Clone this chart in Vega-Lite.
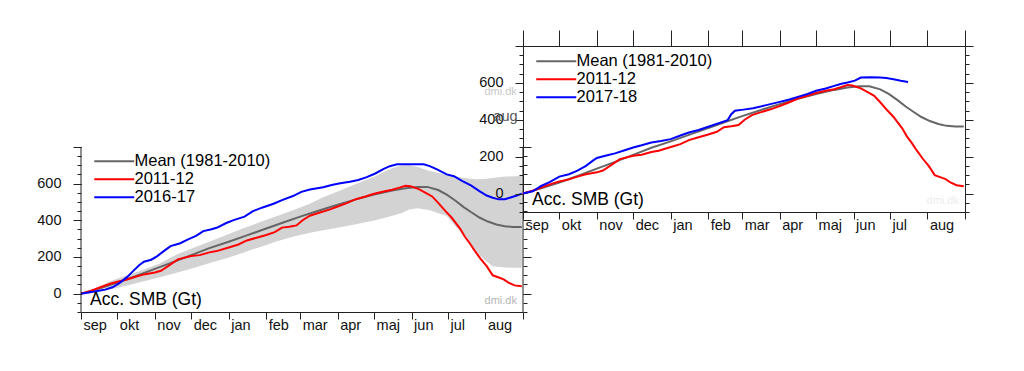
{
  "$schema": "https://vega.github.io/schema/vega-lite/v6.json",
  "background": "white",
  "padding": {"left": 36, "top": 29, "right": 10, "bottom": 10},
  "config": {
    "font": "Liberation Sans",
    "view": {"stroke": null},
    "axis": {"domainColor": "#222", "tickColor": "#222", "labelColor": "#111", "labelFont": "Liberation Sans", "labelFontSize": 14.5, "grid": false, "title": null, "domainWidth": 1, "tickWidth": 1},
    "legend": {"labelFont": "Liberation Sans"}
  },
  "datasets": {
    "lines": [
      {"series": "Mean (1981-2010)", "day": 0, "value": 0}, {"series": "Mean (1981-2010)", "day": 15, "value": 28}, {"series": "Mean (1981-2010)", "day": 30, "value": 60}, {"series": "Mean (1981-2010)", "day": 45, "value": 95}, {"series": "Mean (1981-2010)", "day": 61, "value": 135}, {"series": "Mean (1981-2010)", "day": 76, "value": 172}, {"series": "Mean (1981-2010)", "day": 91, "value": 210}, {"series": "Mean (1981-2010)", "day": 106, "value": 248}, {"series": "Mean (1981-2010)", "day": 122, "value": 283}, {"series": "Mean (1981-2010)", "day": 137, "value": 318}, {"series": "Mean (1981-2010)", "day": 153, "value": 355}, {"series": "Mean (1981-2010)", "day": 167, "value": 388}, {"series": "Mean (1981-2010)", "day": 181, "value": 420}, {"series": "Mean (1981-2010)", "day": 196, "value": 452}, {"series": "Mean (1981-2010)", "day": 212, "value": 485}, {"series": "Mean (1981-2010)", "day": 227, "value": 514}, {"series": "Mean (1981-2010)", "day": 242, "value": 540}, {"series": "Mean (1981-2010)", "day": 257, "value": 562}, {"series": "Mean (1981-2010)", "day": 268, "value": 575}, {"series": "Mean (1981-2010)", "day": 278, "value": 582}, {"series": "Mean (1981-2010)", "day": 286, "value": 582}, {"series": "Mean (1981-2010)", "day": 295, "value": 565}, {"series": "Mean (1981-2010)", "day": 302, "value": 540}, {"series": "Mean (1981-2010)", "day": 309, "value": 508}, {"series": "Mean (1981-2010)", "day": 316, "value": 472}, {"series": "Mean (1981-2010)", "day": 322, "value": 445}, {"series": "Mean (1981-2010)", "day": 329, "value": 415}, {"series": "Mean (1981-2010)", "day": 336, "value": 393}, {"series": "Mean (1981-2010)", "day": 343, "value": 377}, {"series": "Mean (1981-2010)", "day": 350, "value": 367}, {"series": "Mean (1981-2010)", "day": 357, "value": 363}, {"series": "Mean (1981-2010)", "day": 364, "value": 363},
      {"series": "2011-12", "day": 0, "value": 0}, {"series": "2011-12", "day": 8, "value": 15}, {"series": "2011-12", "day": 16, "value": 35}, {"series": "2011-12", "day": 24, "value": 54}, {"series": "2011-12", "day": 30, "value": 65}, {"series": "2011-12", "day": 38, "value": 77}, {"series": "2011-12", "day": 45, "value": 92}, {"series": "2011-12", "day": 52, "value": 105}, {"series": "2011-12", "day": 61, "value": 115}, {"series": "2011-12", "day": 66, "value": 125}, {"series": "2011-12", "day": 74, "value": 160}, {"series": "2011-12", "day": 80, "value": 187}, {"series": "2011-12", "day": 91, "value": 205}, {"series": "2011-12", "day": 98, "value": 210}, {"series": "2011-12", "day": 106, "value": 225}, {"series": "2011-12", "day": 112, "value": 232}, {"series": "2011-12", "day": 122, "value": 252}, {"series": "2011-12", "day": 130, "value": 268}, {"series": "2011-12", "day": 137, "value": 290}, {"series": "2011-12", "day": 145, "value": 305}, {"series": "2011-12", "day": 153, "value": 320}, {"series": "2011-12", "day": 160, "value": 335}, {"series": "2011-12", "day": 166, "value": 360}, {"series": "2011-12", "day": 172, "value": 365}, {"series": "2011-12", "day": 178, "value": 372}, {"series": "2011-12", "day": 183, "value": 400}, {"series": "2011-12", "day": 189, "value": 425}, {"series": "2011-12", "day": 196, "value": 440}, {"series": "2011-12", "day": 205, "value": 458}, {"series": "2011-12", "day": 212, "value": 475}, {"series": "2011-12", "day": 220, "value": 495}, {"series": "2011-12", "day": 227, "value": 515}, {"series": "2011-12", "day": 235, "value": 530}, {"series": "2011-12", "day": 242, "value": 545}, {"series": "2011-12", "day": 250, "value": 557}, {"series": "2011-12", "day": 257, "value": 566}, {"series": "2011-12", "day": 263, "value": 578}, {"series": "2011-12", "day": 268, "value": 588}, {"series": "2011-12", "day": 272, "value": 586}, {"series": "2011-12", "day": 279, "value": 570}, {"series": "2011-12", "day": 285, "value": 548}, {"series": "2011-12", "day": 290, "value": 530}, {"series": "2011-12", "day": 295, "value": 495}, {"series": "2011-12", "day": 301, "value": 450}, {"series": "2011-12", "day": 306, "value": 415}, {"series": "2011-12", "day": 313, "value": 355}, {"series": "2011-12", "day": 317, "value": 310}, {"series": "2011-12", "day": 321, "value": 275}, {"series": "2011-12", "day": 325, "value": 235}, {"series": "2011-12", "day": 330, "value": 190}, {"series": "2011-12", "day": 335, "value": 150}, {"series": "2011-12", "day": 340, "value": 100}, {"series": "2011-12", "day": 345, "value": 88}, {"series": "2011-12", "day": 349, "value": 78}, {"series": "2011-12", "day": 353, "value": 60}, {"series": "2011-12", "day": 358, "value": 45}, {"series": "2011-12", "day": 364, "value": 40},
      {"series": "2016-17", "day": 0, "value": 0}, {"series": "2016-17", "day": 10, "value": 10}, {"series": "2016-17", "day": 20, "value": 22}, {"series": "2016-17", "day": 26, "value": 35}, {"series": "2016-17", "day": 32, "value": 59}, {"series": "2016-17", "day": 38, "value": 90}, {"series": "2016-17", "day": 43, "value": 123}, {"series": "2016-17", "day": 48, "value": 155}, {"series": "2016-17", "day": 52, "value": 174}, {"series": "2016-17", "day": 58, "value": 185}, {"series": "2016-17", "day": 63, "value": 205}, {"series": "2016-17", "day": 70, "value": 240}, {"series": "2016-17", "day": 74, "value": 259}, {"series": "2016-17", "day": 82, "value": 275}, {"series": "2016-17", "day": 88, "value": 295}, {"series": "2016-17", "day": 95, "value": 315}, {"series": "2016-17", "day": 101, "value": 341}, {"series": "2016-17", "day": 107, "value": 350}, {"series": "2016-17", "day": 112, "value": 359}, {"series": "2016-17", "day": 120, "value": 385}, {"series": "2016-17", "day": 126, "value": 401}, {"series": "2016-17", "day": 135, "value": 420}, {"series": "2016-17", "day": 142, "value": 450}, {"series": "2016-17", "day": 150, "value": 470}, {"series": "2016-17", "day": 159, "value": 490}, {"series": "2016-17", "day": 166, "value": 510}, {"series": "2016-17", "day": 175, "value": 532}, {"series": "2016-17", "day": 182, "value": 555}, {"series": "2016-17", "day": 189, "value": 568}, {"series": "2016-17", "day": 200, "value": 580}, {"series": "2016-17", "day": 207, "value": 592}, {"series": "2016-17", "day": 213, "value": 600}, {"series": "2016-17", "day": 222, "value": 610}, {"series": "2016-17", "day": 229, "value": 620}, {"series": "2016-17", "day": 236, "value": 635}, {"series": "2016-17", "day": 243, "value": 655}, {"series": "2016-17", "day": 250, "value": 680}, {"series": "2016-17", "day": 255, "value": 695}, {"series": "2016-17", "day": 261, "value": 705}, {"series": "2016-17", "day": 270, "value": 705}, {"series": "2016-17", "day": 283, "value": 705}, {"series": "2016-17", "day": 288, "value": 695}, {"series": "2016-17", "day": 294, "value": 677}, {"series": "2016-17", "day": 302, "value": 650}, {"series": "2016-17", "day": 308, "value": 640}, {"series": "2016-17", "day": 315, "value": 614}, {"series": "2016-17", "day": 322, "value": 590}, {"series": "2016-17", "day": 329, "value": 559}, {"series": "2016-17", "day": 335, "value": 535}, {"series": "2016-17", "day": 340, "value": 523}, {"series": "2016-17", "day": 345, "value": 514}, {"series": "2016-17", "day": 350, "value": 515}, {"series": "2016-17", "day": 354, "value": 523}, {"series": "2016-17", "day": 360, "value": 535}, {"series": "2016-17", "day": 364, "value": 545},
      {"series": "2017-18", "day": 0, "value": 0}, {"series": "2017-18", "day": 8, "value": 12}, {"series": "2017-18", "day": 15, "value": 41}, {"series": "2017-18", "day": 22, "value": 62}, {"series": "2017-18", "day": 30, "value": 92}, {"series": "2017-18", "day": 38, "value": 105}, {"series": "2017-18", "day": 45, "value": 124}, {"series": "2017-18", "day": 52, "value": 150}, {"series": "2017-18", "day": 58, "value": 180}, {"series": "2017-18", "day": 61, "value": 193}, {"series": "2017-18", "day": 68, "value": 205}, {"series": "2017-18", "day": 76, "value": 218}, {"series": "2017-18", "day": 84, "value": 235}, {"series": "2017-18", "day": 91, "value": 250}, {"series": "2017-18", "day": 98, "value": 262}, {"series": "2017-18", "day": 106, "value": 277}, {"series": "2017-18", "day": 114, "value": 285}, {"series": "2017-18", "day": 122, "value": 295}, {"series": "2017-18", "day": 130, "value": 315}, {"series": "2017-18", "day": 137, "value": 331}, {"series": "2017-18", "day": 145, "value": 345}, {"series": "2017-18", "day": 153, "value": 362}, {"series": "2017-18", "day": 161, "value": 380}, {"series": "2017-18", "day": 169, "value": 398}, {"series": "2017-18", "day": 172, "value": 430}, {"series": "2017-18", "day": 175, "value": 449}, {"series": "2017-18", "day": 182, "value": 455}, {"series": "2017-18", "day": 190, "value": 463}, {"series": "2017-18", "day": 200, "value": 478}, {"series": "2017-18", "day": 212, "value": 497}, {"series": "2017-18", "day": 220, "value": 510}, {"series": "2017-18", "day": 227, "value": 524}, {"series": "2017-18", "day": 235, "value": 540}, {"series": "2017-18", "day": 242, "value": 557}, {"series": "2017-18", "day": 250, "value": 570}, {"series": "2017-18", "day": 257, "value": 584}, {"series": "2017-18", "day": 263, "value": 595}, {"series": "2017-18", "day": 268, "value": 602}, {"series": "2017-18", "day": 274, "value": 612}, {"series": "2017-18", "day": 279, "value": 629}, {"series": "2017-18", "day": 287, "value": 630}, {"series": "2017-18", "day": 295, "value": 629}, {"series": "2017-18", "day": 300, "value": 626}, {"series": "2017-18", "day": 306, "value": 620}, {"series": "2017-18", "day": 312, "value": 612}, {"series": "2017-18", "day": 318, "value": 605}
    ],
    "band": [
      {"day": 0, "lo": 0, "hi": 0}, {"day": 8, "lo": 5, "hi": 18}, {"day": 16, "lo": 12, "hi": 40}, {"day": 24, "lo": 22, "hi": 68}, {"day": 38, "lo": 45, "hi": 100}, {"day": 52, "lo": 68, "hi": 132}, {"day": 65, "lo": 90, "hi": 165}, {"day": 79, "lo": 114, "hi": 214}, {"day": 93, "lo": 140, "hi": 250}, {"day": 107, "lo": 168, "hi": 286}, {"day": 121, "lo": 195, "hi": 322}, {"day": 134, "lo": 223, "hi": 356}, {"day": 148, "lo": 255, "hi": 390}, {"day": 162, "lo": 286, "hi": 423}, {"day": 175, "lo": 310, "hi": 455}, {"day": 189, "lo": 332, "hi": 490}, {"day": 200, "lo": 345, "hi": 525}, {"day": 213, "lo": 360, "hi": 560}, {"day": 228, "lo": 380, "hi": 600}, {"day": 243, "lo": 400, "hi": 640}, {"day": 255, "lo": 420, "hi": 680}, {"day": 265, "lo": 440, "hi": 700}, {"day": 271, "lo": 459, "hi": 700}, {"day": 278, "lo": 465, "hi": 690}, {"day": 288, "lo": 455, "hi": 668}, {"day": 302, "lo": 423, "hi": 648}, {"day": 315, "lo": 323, "hi": 632}, {"day": 320, "lo": 285, "hi": 628}, {"day": 326, "lo": 232, "hi": 624}, {"day": 333, "lo": 185, "hi": 625}, {"day": 340, "lo": 150, "hi": 630}, {"day": 350, "lo": 142, "hi": 638}, {"day": 364, "lo": 141, "hi": 641}
    ],
    "edges": [{"edge": 0}, {"edge": 365}],
    "fragments": [
      {"label": "dmi.dk", "day": -18.5, "value": 549, "tone": "light"},
      {"label": "aug", "day": -14.5, "value": 414, "tone": "dark"}
    ]
  },
  "hconcat": [
    {
      "width": 442, "height": 266,
      "layer": [
        {
          "data": {"name": "band"},
          "mark": {"type": "area", "color": "#d3d3d3"},
          "encoding": {
            "x": {"field": "day", "type": "quantitative", "scale": {"domain": [0, 365], "nice": false},
              "axis": {"orient": "bottom", "values": [0, 30, 61, 91, 122, 153, 181, 212, 242, 273, 303, 334, 365], "tickSize": 7, "labelExpr": "['sep','okt','nov','dec','jan','feb','mar','apr','maj','jun','jul','aug',''][indexof([0,30,61,91,122,153,181,212,242,273,303,334,365], datum.value)]", "labelAlign": "left", "labelOffset": 2, "labelPadding": -1, "labelOverlap": false, "labelFlush": false}},
            "y": {"field": "lo", "type": "quantitative", "scale": {"domain": [-100, 1350], "nice": false},
              "axis": {"orient": "left", "values": [0, 200, 400, 600, 800], "tickSize": 8, "labelPadding": 12, "domain": false, "labelExpr": "datum.value <= 600 ? datum.label : ''"}},
            "y2": {"field": "hi"}
          }
        },
        {
          "data": {"name": "lines"},
          "transform": [{"filter": {"field": "series", "equal": "Mean (1981-2010)"}}],
          "mark": {"type": "line", "strokeWidth": 2},
          "encoding": {
            "x": {"field": "day", "type": "quantitative", "scale": {"domain": [0, 365], "nice": false}, "axis": null},
            "y": {"field": "value", "type": "quantitative", "scale": {"domain": [-100, 1350], "nice": false},
              "axis": {"orient": "left", "values": [-100, -50, 0, 50, 100, 150, 200, 250, 300, 350, 400, 450, 500, 550, 600, 650, 700, 750, 800], "tickSize": 4, "labels": false, "domain": false}},
            "color": {"field": "series", "type": "nominal", "scale": {"domain": ["Mean (1981-2010)", "2011-12", "2016-17"], "range": ["#666666", "#ff0000", "#0000ff"]},
              "legend": {"orient": "none", "legendX": 25, "legendY": 107, "direction": "vertical", "title": null, "symbolType": "M-4,0H4", "symbolSize": 100, "symbolStrokeWidth": 2, "labelFontSize": 16.5, "labelColor": "#000", "labelOffset": 12, "rowPadding": 1, "padding": 0, "labelLimit": 300}}
          }
        },
        {
          "data": {"name": "lines"},
          "transform": [{"filter": {"field": "series", "oneOf": ["2011-12", "2016-17"]}}],
          "mark": {"type": "line", "strokeWidth": 2},
          "encoding": {
            "x": {"field": "day", "type": "quantitative", "scale": {"domain": [0, 365], "nice": false}, "axis": null},
            "y": {"field": "value", "type": "quantitative", "scale": {"domain": [-100, 1350], "nice": false},
              "axis": {"orient": "right", "values": [0, 200, 400, 600, 800], "tickSize": 8, "labels": false, "domain": false}},
            "color": {"field": "series", "type": "nominal", "scale": {"domain": ["Mean (1981-2010)", "2011-12", "2016-17"], "range": ["#666666", "#ff0000", "#0000ff"]},
              "legend": {"orient": "none", "legendX": 25, "legendY": 107, "direction": "vertical", "title": null, "symbolType": "M-4,0H4", "symbolSize": 100, "symbolStrokeWidth": 2, "labelFontSize": 16.5, "labelColor": "#000", "labelOffset": 12, "rowPadding": 1, "padding": 0, "labelLimit": 300}}
          }
        },
        {
          "data": {"values": [{"label": "Acc. SMB (Gt)"}]},
          "mark": {"type": "text", "align": "left", "baseline": "middle", "fontSize": 17.5, "color": "#000"},
          "encoding": {
            "x": {"datum": 7.5, "type": "quantitative", "scale": {"domain": [0, 365], "nice": false}, "axis": null},
            "y": {"datum": -36, "type": "quantitative", "scale": {"domain": [-100, 1350], "nice": false},
              "axis": {"orient": "right", "values": [-100, -50, 0, 50, 100, 150, 200, 250, 300, 350, 400, 450, 500, 550, 600, 650, 700, 750, 800], "tickSize": 4, "labels": false, "domain": false}},
            "text": {"field": "label"}
          }
        },
        {
          "data": {"values": [{"label": "dmi.dk"}]},
          "mark": {"type": "text", "align": "right", "baseline": "middle", "fontSize": 11, "color": "#b5b5b5"},
          "encoding": {
            "x": {"datum": 360, "type": "quantitative", "scale": {"domain": [0, 365], "nice": false}, "axis": null},
            "y": {"datum": -40, "type": "quantitative", "scale": {"domain": [-100, 1350], "nice": false}, "axis": null},
            "text": {"field": "label"}
          }
        },
        {
          "data": {"name": "edges"},
          "mark": {"type": "rule", "color": "#222", "strokeWidth": 1},
          "encoding": {
            "x": {"field": "edge", "type": "quantitative", "scale": {"domain": [0, 365], "nice": false}, "axis": null},
            "y": {"datum": -100, "type": "quantitative", "scale": {"domain": [-100, 1350], "nice": false}, "axis": null},
            "y2": {"datum": 800}
          }
        }
      ],
      "resolve": {"axis": {"x": "independent", "y": "independent"}}
    },
    {
      "width": 442, "height": 166,
      "layer": [
        {
          "data": {"name": "lines"},
          "transform": [{"filter": {"field": "series", "equal": "Mean (1981-2010)"}}],
          "mark": {"type": "line", "strokeWidth": 2},
          "encoding": {
            "x": {"field": "day", "type": "quantitative", "scale": {"domain": [0, 365], "nice": false},
              "axis": {"orient": "bottom", "values": [0, 30, 61, 91, 122, 153, 181, 212, 242, 273, 303, 334, 365], "tickSize": 7, "labelExpr": "['sep','okt','nov','dec','jan','feb','mar','apr','maj','jun','jul','aug',''][indexof([0,30,61,91,122,153,181,212,242,273,303,334,365], datum.value)]", "labelAlign": "left", "labelOffset": 2, "labelPadding": -1, "labelOverlap": false, "labelFlush": false}},
            "y": {"field": "value", "type": "quantitative", "scale": {"domain": [-100, 800], "nice": false},
              "axis": {"orient": "left", "values": [0, 200, 400, 600, 800], "tickSize": 8, "labelPadding": 12, "labelExpr": "datum.value <= 600 ? datum.label : ''"}},
            "color": {"field": "series", "type": "nominal", "scale": {"domain": ["Mean (1981-2010)", "2011-12", "2017-18"], "range": ["#666666", "#ff0000", "#0000ff"]},
              "legend": {"orient": "none", "legendX": 25, "legendY": 7, "direction": "vertical", "title": null, "symbolType": "M-4,0H4", "symbolSize": 100, "symbolStrokeWidth": 2, "labelFontSize": 16.5, "labelColor": "#000", "labelOffset": 12, "rowPadding": 1, "padding": 0, "labelLimit": 300}}
          }
        },
        {
          "data": {"name": "lines"},
          "transform": [{"filter": {"field": "series", "oneOf": ["2011-12", "2017-18"]}}],
          "mark": {"type": "line", "strokeWidth": 2},
          "encoding": {
            "x": {"field": "day", "type": "quantitative", "scale": {"domain": [0, 365], "nice": false},
              "axis": {"orient": "top", "values": [0, 30, 61, 91, 122, 153, 181, 212, 242, 273, 303, 334, 365], "tickSize": 16, "labels": false}},
            "y": {"field": "value", "type": "quantitative", "scale": {"domain": [-100, 800], "nice": false},
              "axis": {"orient": "left", "values": [-100, -50, 0, 50, 100, 150, 200, 250, 300, 350, 400, 450, 500, 550, 600, 650, 700, 750, 800], "tickSize": 4, "labels": false, "domain": false}},
            "color": {"field": "series", "type": "nominal", "scale": {"domain": ["Mean (1981-2010)", "2011-12", "2017-18"], "range": ["#666666", "#ff0000", "#0000ff"]},
              "legend": {"orient": "none", "legendX": 25, "legendY": 7, "direction": "vertical", "title": null, "symbolType": "M-4,0H4", "symbolSize": 100, "symbolStrokeWidth": 2, "labelFontSize": 16.5, "labelColor": "#000", "labelOffset": 12, "rowPadding": 1, "padding": 0, "labelLimit": 300}}
          }
        },
        {
          "data": {"values": [{"label": "Acc. SMB (Gt)"}]},
          "mark": {"type": "text", "align": "left", "baseline": "middle", "fontSize": 17.5, "color": "#000"},
          "encoding": {
            "x": {"datum": 7.5, "type": "quantitative", "scale": {"domain": [0, 365], "nice": false}, "axis": null},
            "y": {"datum": -36, "type": "quantitative", "scale": {"domain": [-100, 800], "nice": false},
              "axis": {"orient": "right", "values": [0, 200, 400, 600, 800], "tickSize": 8, "labels": false}},
            "text": {"field": "label"}
          }
        },
        {
          "data": {"values": [{"label": "dmi.dk"}]},
          "mark": {"type": "text", "align": "right", "baseline": "middle", "fontSize": 11, "color": "#ececec"},
          "encoding": {
            "x": {"datum": 360, "type": "quantitative", "scale": {"domain": [0, 365], "nice": false}, "axis": null},
            "y": {"datum": -40, "type": "quantitative", "scale": {"domain": [-100, 800], "nice": false},
              "axis": {"orient": "right", "values": [-100, -50, 0, 50, 100, 150, 200, 250, 300, 350, 400, 450, 500, 550, 600, 650, 700, 750, 800], "tickSize": 4, "labels": false, "domain": false}},
            "text": {"field": "label"}
          }
        },
        {
          "data": {"name": "fragments"},
          "mark": {"type": "text", "align": "center", "baseline": "middle"},
          "encoding": {
            "x": {"field": "day", "type": "quantitative", "scale": {"domain": [0, 365], "nice": false}, "axis": null},
            "y": {"field": "value", "type": "quantitative", "scale": {"domain": [-100, 800], "nice": false}, "axis": null},
            "text": {"field": "label"},
            "size": {"field": "tone", "type": "nominal", "scale": {"domain": ["light", "dark"], "range": [11, 14.5]}, "legend": null},
            "color": {"value": "#555555", "condition": {"test": "datum.tone === 'light'", "value": "#c8c8c8"}}
          }
        }
      ],
      "resolve": {"axis": {"x": "independent", "y": "independent"}, "scale": {"size": "independent"}}
    }
  ],
  "spacing": 0,
  "bounds": "flush",
  "resolve": {"scale": {"color": "independent"}}
}
